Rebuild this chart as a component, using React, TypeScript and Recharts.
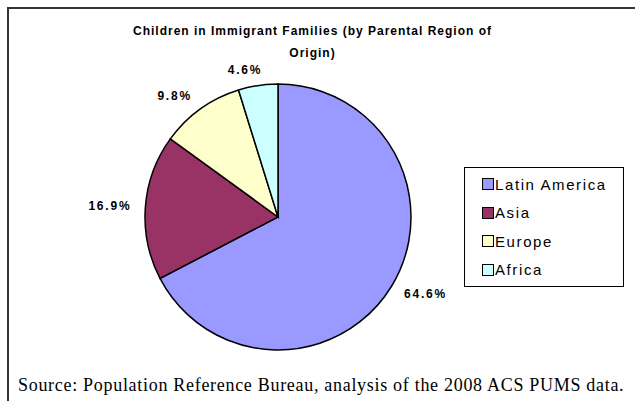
import { Cell, Legend, Pie, PieChart } from "recharts";

const regions = ["Latin America", "Asia", "Europe", "Africa"];
const shares = [64.6, 16.9, 9.8, 4.6];
const colors = ["#9999FF", "#993366", "#FFFFCC", "#CCFFFF"];

const data = regions.map((name, i) => ({ name, value: shares[i] }));

const RADIAN = Math.PI / 180;

function renderLabel(props: any) {
  const { cx, cy, midAngle, outerRadius, value } = props;
  const dx = Math.cos(-midAngle * RADIAN);
  const dy = Math.sin(-midAngle * RADIAN);
  const text = `${value.toFixed(1)}%`;
  const w = text.length * 9.4;
  const x = cx + (outerRadius + 12) * dx + (w / 2) * Math.sign(dx) * Math.min(1, Math.abs(dx) * 4);
  const y = cy + (outerRadius + 12) * dy + 4 * dy;
  return (
    <text
      x={x}
      y={y}
      textAnchor="middle"
      dominantBaseline="central"
      fontFamily="'Liberation Sans', Arial, sans-serif"
      fontWeight="bold"
      fontSize={12}
      letterSpacing={1.8}
      fill="#000"
    >
      {text}
    </text>
  );
}

// legend drawn in the data order, like the original
function renderLegend() {
  return (
    <div
      style={{
        width: 160,
        height: 120,
        border: "1px solid #000",
        background: "#fff",
        boxSizing: "border-box",
        paddingTop: 2,
      }}
    >
      {regions.map((name, i) => (
        <div key={name} style={{ display: "flex", alignItems: "center", height: 28.5, paddingLeft: 17 }}>
          <span
            style={{
              width: 10,
              height: 10,
              border: "1px solid #000",
              background: colors[i],
              display: "inline-block",
              marginRight: 1,
            }}
          />
          <span
            style={{
              fontFamily: "'Liberation Sans', Arial, sans-serif",
              fontSize: 15,
              letterSpacing: 1.6,
              color: "#000",
            }}
          >
            {name}
          </span>
        </div>
      ))}
    </div>
  );
}

export default function App() {
  return (
    <div style={{ position: "absolute", left: 0, top: 0, width: 635, height: 401, background: "#fff", overflow: "hidden" }}>
      <div
        style={{
          position: "absolute",
          left: 7,
          top: 7,
          width: 640,
          height: 400,
          borderTop: "2px solid #333",
          borderLeft: "2px solid #333",
        }}
      />
      <div
        style={{
          position: "absolute",
          left: 0,
          width: 625,
          top: 20,
          textAlign: "center",
          fontFamily: "'Liberation Sans', Arial, sans-serif",
          fontWeight: "bold",
          fontSize: 12,
          letterSpacing: 1,
          lineHeight: "22px",
        }}
      >
        Children in Immigrant Families (by Parental Region of
        <br />
        Origin)
      </div>
      <PieChart
        width={635}
        height={401}
        margin={{ top: 0, right: 0, bottom: 0, left: 0 }}
        style={{ position: "absolute", left: 0, top: 0 }}
      >
        <Pie
          data={data}
          dataKey="value"
          nameKey="name"
          cx={278}
          cy={217}
          outerRadius={133}
          startAngle={90}
          endAngle={-270}
          stroke="#000"
          strokeWidth={1.5}
          label={renderLabel}
          labelLine={false}
          isAnimationActive={false}
        >
          {data.map((d, i) => (
            <Cell key={d.name} fill={colors[i]} />
          ))}
        </Pie>
        <Legend
          layout="vertical"
          content={renderLegend}
          wrapperStyle={{ position: "absolute", left: 464, top: 167, width: 160 }}
        />
      </PieChart>
      <div
        style={{
          position: "absolute",
          left: 18,
          top: 375,
          fontFamily: "'Liberation Serif', 'Times New Roman', serif",
          fontSize: 18,
          letterSpacing: 0.7,
          whiteSpace: "nowrap",
          color: "#000",
        }}
      >
        Source: Population Reference Bureau, analysis of the 2008 ACS PUMS data.
      </div>
    </div>
  );
}
